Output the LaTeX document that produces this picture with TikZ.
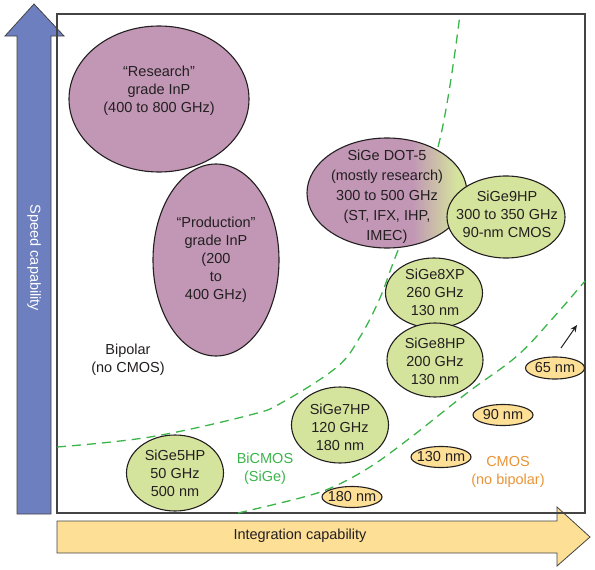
\documentclass[tikz,border=0pt]{standalone}
\usepackage{fontspec}
\setmainfont{Liberation Sans}
\usetikzlibrary{shapes.geometric,arrows.meta}
\definecolor{purp}{HTML}{C197B5}
\definecolor{grn}{HTML}{D5E49D}
\definecolor{yel}{HTML}{FDDF95}
\definecolor{blu}{HTML}{6E7FC0}
\definecolor{dgreen}{HTML}{3BB54A}
\definecolor{orng}{HTML}{E99436}
\definecolor{framec}{HTML}{444444}
\definecolor{inkc}{HTML}{231F20}
\pgfdeclarehorizontalshading{dotshade}{100bp}{color(0bp)=(purp); color(58bp)=(purp); color(72bp)=(grn); color(100bp)=(grn)}
\newcommand\fs{\fontsize{14.5}{18}\selectfont}
\newcommand\fsw{\fontsize{14.5}{20}\selectfont}
\tikzset{
  ell/.style={ellipse, draw=inkc, line width=1.1, inner sep=0},
  purpell/.style={ell, fill=purp},
  grell/.style={ell, fill=grn},
  nmell/.style={ell, fill=yel},
  txt/.style={align=center, inner sep=0, font=\fs, text=inkc},
  wtxt/.style={align=center, inner sep=0, font=\fsw, text=inkc},
  bound/.style={dgreen, line width=1.3, dash pattern=on 9pt off 6pt},
}
\begin{document}
\begin{tikzpicture}[x=1pt,y=-1pt]
\useasboundingbox (0,0) rectangle (595,570);
% axes arrows
\filldraw[fill=blu, draw=framec, line width=0.8] (17,514) -- (17,36) -- (5,36) -- (34,4) -- (64,36) -- (51,36) -- (51,514) -- cycle;
\node[txt, text=white, rotate=-90] (speed) at (34,258) {Speed capability};
\filldraw[fill=yel, draw=framec, line width=0.8] (57,521) -- (557,521) -- (557,507) -- (590,537) -- (557,566) -- (557,553) -- (57,553) -- cycle;
\node[txt] (integ) at (300,536) {Integration capability};
% frame
\draw[framec, line width=1.4] (57,14) rectangle (585,513);
% boundaries
\draw[bound] plot[smooth, tension=0.6] coordinates {(57,447) (150,437) (250,415) (283,402) (337,367) (360,337) (380,298) (395,258) (438,147) (460,14)};
\draw[bound] plot[smooth, tension=0.6] coordinates {(238,513) (300,498) (333,487) (370,467) (410,438) (467,393) (517,356) (553,318) (585,281)};
% InP
\node[purpell, minimum width=180, minimum height=146] (research) at (159,99) {};
\node[txt] (researcht) at (159,91) {“Research”\\grade InP\\(400 to 800 GHz)};
\node[purpell, minimum width=126, minimum height=192] (prod) at (216,260) {};
\node[txt] (prodt) at (216,260) {“Production”\\grade InP\\(200\\to\\400 GHz)};
% DOT-5
\node[ell, shade, shading=dotshade, minimum width=160, minimum height=110] (dot) at (387,193) {};
\node[wtxt] (dott) at (387,197) {SiGe DOT-5\\(mostly research)\\300 to 500 GHz\\(ST, IFX, IHP,\\IMEC)};
\node[grell, minimum width=118, minimum height=82] (h9) at (506,217) {};
\node[txt] (h9t) at (507,214) {SiGe9HP\\300 to 350 GHz\\90-nm CMOS};
\node[grell, minimum width=97, minimum height=70] (x8) at (434,293) {};
\node[txt] (x8t) at (435,292) {SiGe8XP\\260 GHz\\130 nm};
\node[grell, minimum width=96, minimum height=74] (h8) at (435,360) {};
\node[txt] (h8t) at (435,361) {SiGe8HP\\200 GHz\\130 nm};
\node[grell, minimum width=97, minimum height=76] (h7) at (340,425) {};
\node[txt] (h7t) at (340,427) {SiGe7HP\\120 GHz\\180 nm};
\node[grell, minimum width=97, minimum height=76] (h5) at (175,473) {};
\node[txt] (h5t) at (175,473) {SiGe5HP\\50 GHz\\500 nm};
% CMOS nodes
\node[nmell, minimum width=59, minimum height=22] (n65) at (555,368) {};
\node[txt] (n65t) at (555,368) {65 nm};
\node[nmell, minimum width=60, minimum height=21] (n90) at (503,415) {};
\node[txt] (n90t) at (503,415) {90 nm};
\node[nmell, minimum width=60, minimum height=21] (n130) at (441,457) {};
\node[txt] (n130t) at (441,457) {130 nm};
\node[nmell, minimum width=60, minimum height=21] (n180) at (352,497) {};
\node[txt] (n180t) at (352,497) {180 nm};
% region labels
\node[txt] (bip) at (128,360) {Bipolar\\(no CMOS)};
\node[txt, text=dgreen] (bic) at (265,469) {BiCMOS\\(SiGe)};
\node[txt, text=orng] (cmos) at (508,472) {CMOS\\(no bipolar)};
% small arrow
\coordinate (sa1) at (561,348);
\coordinate (sa2) at (577,325);
\draw[inkc, line width=1, -{Stealth[length=7,width=6]}] (sa1) -- (sa2);
\end{tikzpicture}
\end{document}
